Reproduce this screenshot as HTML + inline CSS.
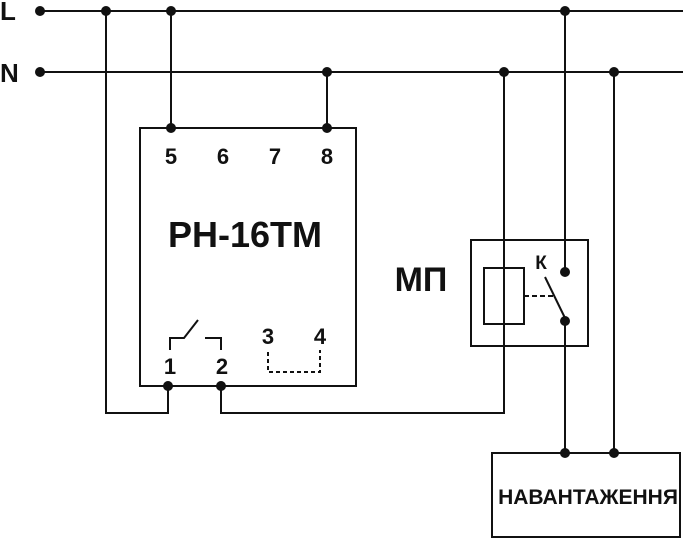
<!DOCTYPE html>
<html><head><meta charset="utf-8"><style>
html,body{margin:0;padding:0;background:#fff;}
svg{display:block;}
text{font-family:"Liberation Sans",sans-serif;font-weight:bold;fill:#111;}
</style></head><body>
<svg width="683" height="541" viewBox="0 0 683 541" xmlns="http://www.w3.org/2000/svg">
<g stroke="#111" stroke-width="2" fill="none">
<line x1="40" y1="11" x2="683" y2="11"/>
<line x1="40" y1="72" x2="683" y2="72"/>
<rect x="140" y="128" width="216" height="258"/>
<polyline points="171,11 171,128"/>
<polyline points="327,72 327,128"/>
<polyline points="106,11 106,413 168,413 168,386"/>
<polyline points="221,386 221,413 504,413 504,72"/>
<rect x="471" y="240" width="117" height="106"/>
<rect x="484" y="268" width="40" height="56"/>
<line x1="565" y1="11" x2="565" y2="272"/>
<line x1="565" y1="321" x2="565" y2="453"/>
<line x1="614" y1="72" x2="614" y2="453"/>
<line x1="545" y1="277" x2="565" y2="318"/>
<line x1="524" y1="296" x2="556" y2="296" stroke-dasharray="5,3"/>
<rect x="492" y="453" width="188" height="84"/>
<polyline points="170,350 170,338 184,338 198,320"/>
<polyline points="205,338 221,338 221,350"/>
<polyline points="268,352 268,372 320,372 320,350" stroke-dasharray="4,3"/>
</g>
<g fill="#111">
<circle cx="40" cy="11" r="5"/><circle cx="106" cy="11" r="5"/><circle cx="171" cy="11" r="5"/><circle cx="565" cy="11" r="5"/>
<circle cx="40" cy="72" r="5"/><circle cx="327" cy="72" r="5"/><circle cx="504" cy="72" r="5"/><circle cx="614" cy="72" r="5"/>
<circle cx="171" cy="128" r="5"/><circle cx="327" cy="128" r="5"/>
<circle cx="168" cy="386" r="5"/><circle cx="221" cy="386" r="5"/>
<circle cx="565" cy="272" r="5"/><circle cx="565" cy="321" r="5"/>
<circle cx="565" cy="453" r="5"/><circle cx="614" cy="453" r="5"/>
</g>
<text x="0" y="20" font-size="26">L</text>
<text x="0" y="82" font-size="26">N</text>
<g font-size="22" text-anchor="middle">
<text x="171" y="164">5</text><text x="223" y="164">6</text><text x="275" y="164">7</text><text x="327" y="164">8</text>
<text x="170" y="374">1</text><text x="222" y="374">2</text>
<text x="268" y="344">3</text><text x="320" y="344">4</text>
</g>
<text x="245" y="247" font-size="36" text-anchor="middle">PH-16TM</text>
<text x="421" y="291" font-size="34" text-anchor="middle">МП</text>
<text x="541" y="269" font-size="19" text-anchor="middle">К</text>
<text x="588" y="504" font-size="21" text-anchor="middle">НАВАНТАЖЕННЯ</text>
</svg>
</body></html>
